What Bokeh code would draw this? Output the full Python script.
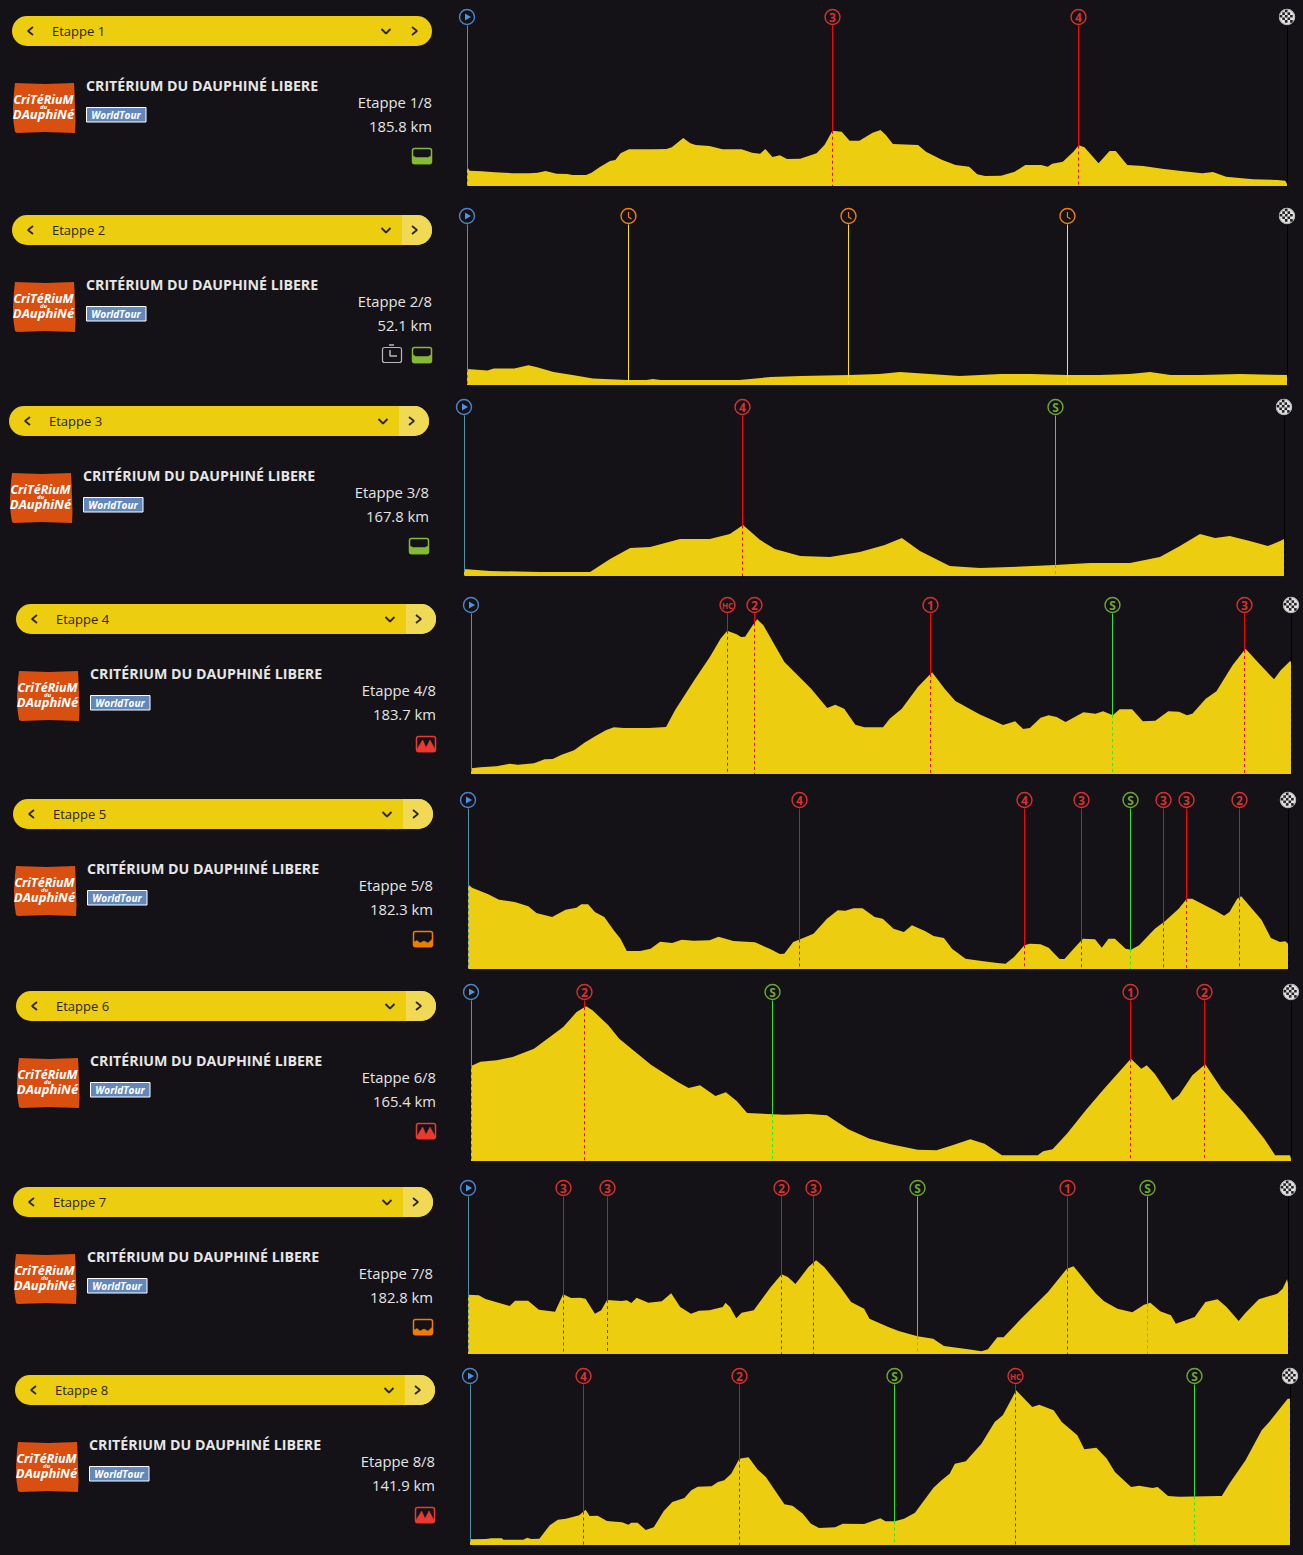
from bokeh.plotting import figure
from bokeh.models import Range1d
from bokeh.embed import file_html
from bokeh.resources import INLINE
from bokeh.core.properties import value
import numpy as np

# ---------- data: elevation profiles, km and metres ----------
s1_km = [0,0.6,3.3,6.3,10.6,14.2,16.0,17.8,20.3,22.7,23.9,27.0,28.2,30.2,32.4,33.6,34.8,36.7,42.1,45.2,46.4,49.0,50.6,51.8,54.9,57.9,62.2,64.6,66.4,67.6,69.2,70.9,72.5,75.5,79.2,81.0,82.8,84.9,86.7,88.9,91.9,93.7,94.9,96.5,102.2,104.0,107.7,110.7,113.8,115.6,117.4,121.0,124.1,126.5,130.1,131.6,132.6,135.0,137.4,138.6,139.9,143.1,145.6,147.0,149.6,153.2,157.5,162.3,166.6,169.0,172.0,178.1,183.6,185.4,185.8]
s1_m = [193,153,147,137,127,127,133,150,123,120,110,110,133,193,250,260,327,367,367,370,387,480,427,410,400,367,367,333,323,370,290,307,270,273,327,410,553,543,453,453,533,560,510,420,410,343,260,210,193,117,100,103,143,210,210,193,223,243,343,407,387,227,350,350,210,200,173,147,127,140,93,67,60,53,20]

s2_km = [0,1.3,1.7,3.0,3.9,4.4,5.5,6.7,8.0,10.2,11.4,11.8,12.3,17.3,19.3,21.2,24.3,26.2,27.5,29.4,31.3,33.9,35.8,38.1,40.2,42.1,43.4,44.7,46.6,49.1,52.1]
s2_m = [160,145,165,165,197,180,130,100,65,50,50,60,50,50,80,90,100,110,130,110,90,110,110,100,100,110,130,100,100,110,100]

s3_km = [0,5.3,15.6,25.8,29.9,34.0,38.1,44.2,50.3,54.4,57.1,60.6,63.6,68.8,74.9,81.0,86.1,89.6,93.3,99.4,105.6,111.7,120.9,128.1,136.3,142.4,146.5,150.6,153.7,156.7,160.8,164.5,167.0,167.8]
s3_m = [70,50,40,40,170,280,290,370,370,420,510,360,270,200,190,240,310,380,250,100,80,90,110,130,130,190,300,420,380,400,350,300,350,370]

s4_km = [0,2.1,5.7,8.7,10.5,14.1,16.5,18.3,20.3,23.1,25.4,27.8,30.2,32.0,34.2,39.8,43.7,45.7,49.9,53.5,55.9,57.4,59.5,60.5,61.4,63.1,64.1,65.5,70.2,76.2,79.8,81.6,83.6,86.1,88.1,92.3,93.8,96.5,100.1,103.3,106.1,108.5,113.9,116.9,119.2,121.9,123.7,125.2,127.6,129.4,131.2,133.2,137.2,139.9,141.6,143.8,145.3,148.1,150.5,153.3,156.2,158.6,160.4,161.6,164.6,167.0,170.6,173.5,176.6,179.9,181.4,183.5,183.7]
s4_m = [57,67,77,103,93,107,147,150,193,237,313,377,437,467,460,460,470,637,930,1170,1353,1433,1397,1370,1373,1487,1547,1487,1120,853,660,693,653,493,467,467,553,653,870,1017,853,730,597,537,490,527,450,460,563,587,570,520,617,603,627,587,647,647,527,533,627,623,587,603,753,827,1087,1253,1103,947,1037,1130,1120]

s5_km = [0,0.9,4.5,6.9,10.4,13.4,15.2,18.7,21.7,24.1,25.2,26.7,28.2,30.3,32.4,33.9,35.3,38.3,40.6,42.7,45.4,47.5,50.1,53.7,55.7,59.0,63.8,67.3,69.3,70.3,72.3,74.4,76.8,79.8,82.2,83.9,85.7,87.7,90.4,92.2,94.6,96.9,98.7,101.7,103.5,105.8,107.6,110.6,114.2,117.7,119.5,121.4,123.7,124.9,127.3,129.1,131.5,132.6,135.0,136.7,139.4,140.9,142.4,143.8,146.2,147.4,149.2,152.7,155.0,158.0,159.8,161.0,166.3,168.1,169.3,171.0,171.9,176.4,178.5,180.5,181.7,182.3]
s5_m = [847,813,747,693,670,627,560,520,593,613,647,647,570,520,387,303,180,180,203,273,260,293,283,287,323,280,267,197,150,153,270,307,353,503,587,583,607,607,520,503,403,370,437,377,330,310,203,103,80,60,53,120,237,253,247,213,100,100,220,303,297,213,303,303,203,193,237,403,480,603,703,703,580,533,570,703,727,493,310,270,277,253]

s6_km = [0,1.9,5.2,8.4,12.7,15.9,18.6,21.3,23.2,24.5,27.7,29.9,36.3,41.7,43.9,46.2,49.3,51.4,53.6,55.7,63.2,68.1,71.8,76.1,80.4,84.7,90.1,93.9,97.1,100.7,103.6,107.1,114.3,115.4,117.3,120.2,124.0,127.7,133.1,135.2,136.3,137.9,141.5,142.8,145.5,148.1,151.4,155.7,160.0,162.2,165.2,165.4]
s6_m = [950,993,1007,1040,1123,1240,1340,1490,1547,1507,1357,1223,963,790,730,757,650,687,600,480,463,470,457,317,223,167,113,107,157,217,173,57,57,97,117,273,507,723,1023,923,957,873,607,657,857,967,723,490,223,57,57,23]

s7_km = [0,2.4,3.9,9.3,10.5,13.4,15.8,19.4,21.2,23.0,25.0,26.2,28.3,29.7,31.0,34.2,35.4,36.4,37.6,40.2,43.2,45.3,47.3,49.7,51.5,53.8,56.8,57.4,58.4,59.8,61.0,63.7,67.5,69.9,71.3,73.0,75.9,77.6,79.4,83.0,85.4,88.3,89.5,93.7,96.0,100.2,103.7,106.1,111.5,114.5,115.9,118.0,119.4,123.3,129.3,133.5,135.0,140.0,141.8,144.8,148.1,150.7,152.1,154.3,156.7,157.8,162.0,164.4,167.1,169.1,171.8,173.3,176.3,180.4,181.6,182.6,182.8]
s7_m = [593,587,550,480,533,533,443,423,597,560,563,553,403,437,540,530,537,510,563,513,527,607,470,403,433,437,470,513,470,357,413,437,670,797,770,700,870,937,870,670,520,453,353,270,230,177,153,80,47,27,47,167,167,353,620,853,877,603,527,453,417,493,513,427,387,303,370,520,547,470,330,410,547,603,653,747,703]

s8_km = [0,0.5,2.8,3.7,5.5,5.8,9.2,9.9,10.6,12.0,13.8,15.2,16.6,18.9,20.0,20.7,22.1,23.7,26.3,27.4,27.9,29.0,30.4,31.8,33.5,35.0,37.1,38.3,39.4,41.8,42.9,44.0,45.2,46.6,48.2,49.8,51.2,54.4,55.8,57.6,59.0,60.4,63.2,64.5,68.2,71.0,71.9,73.5,75.1,77.0,80.2,81.6,83.0,83.9,85.8,88.5,90.8,92.2,93.6,94.5,97.3,98.5,101.0,102.4,105.1,106.3,108.4,110.2,111.6,114.4,115.8,118.1,119.0,120.8,122.7,129.6,130.1,131.4,134.2,137.0,138.3,141.5,141.9]
s8_m = [63,57,60,67,67,53,53,73,60,63,197,253,263,297,353,290,293,240,227,203,223,223,150,177,337,430,470,547,583,587,630,647,713,863,877,753,680,407,393,313,213,170,177,213,210,267,237,237,263,323,573,647,713,813,837,1013,1230,1297,1447,1547,1380,1403,1347,1230,1097,957,973,863,730,580,593,570,580,490,483,490,490,613,847,1147,1230,1463,1463]

# ---------- data: stage table ----------
stage_names = ["Etappe 1","Etappe 2","Etappe 3","Etappe 4","Etappe 5","Etappe 6","Etappe 7","Etappe 8"]
stage_counts = ["Etappe 1/8","Etappe 2/8","Etappe 3/8","Etappe 4/8","Etappe 5/8","Etappe 6/8","Etappe 7/8","Etappe 8/8"]
stage_km = [185.8,52.1,167.8,183.7,182.3,165.4,182.8,141.9]
stage_kinds = ["flat","flat","flat","mountain","hilly","mountain","hilly","mountain"]
race_title = "CRITÉRIUM DU DAUPHINÉ LIBERE"
profiles = [(s1_km,s1_m),(s2_km,s2_m),(s3_km,s3_m),(s4_km,s4_m),(s5_km,s5_m),(s6_km,s6_m),(s7_km,s7_m),(s8_km,s8_m)]

s1_marks = [("3",82.82),("4",138.56)]
s2_marks = [("T",10.26),("T",24.24),("T",38.15)]
s3_marks = [("4",56.99),("S",121.04)]
s4_marks = [("HC",57.46),("2",63.51),("1",102.94),("S",143.71),("3",173.28)]
s5_marks = [("4",73.70),("4",123.72),("3",136.39),("S",147.29),("3",154.62),("3",159.74),("2",171.52)]
s6_marks = [("2",22.89),("S",60.82),("1",133.03),("2",147.95)]
s7_marks = [("3",21.29),("3",31.10),("2",69.89),("3",77.02),("S",100.21),("1",133.65),("S",151.48)]
s8_marks = [("4",19.64),("2",46.64),("S",73.46),("HC",94.40),("S",125.37)]
all_marks = [s1_marks,s2_marks,s3_marks,s4_marks,s5_marks,s6_marks,s7_marks,s8_marks]

# ---------- layout ----------
PAGE_W, PAGE_H = 1303, 1555
OFF = 0.5
BG = "#141216"
YEL = "#edcd10"
YEL2 = "#f0d955"
INK = "#2b2610"
FONT = value("Open Sans")
pill_x = [12,12,9,16,13,16,13,15]
pill_c = [31,230,421,619,814,1006,1202,1390]
baseline = [186,385,576,774,969,1161,1354,1545]
mark_y = [17,216,407,605,800,992,1188,1376]
PX_M = 10.0   # metres per pixel
CHART_W = 820

p = figure(width=PAGE_W, height=PAGE_H, x_range=Range1d(OFF,PAGE_W+OFF), y_range=Range1d(PAGE_H+OFF,OFF),
           output_backend="svg", toolbar_location=None, x_axis_type=None, y_axis_type=None,
           background_fill_color=BG, border_fill_color=BG, outline_line_color=None,
           min_border=0, min_border_left=0, min_border_right=0, min_border_top=0, min_border_bottom=0)
p.xgrid.visible = False
p.ygrid.visible = False

def txt(x, y, s, size, color, align="left", style="normal", font=FONT):
    p.text(x=[x], y=[y], text=[s], text_font=font, text_font_size=f"{size}px", text_color=color,
           text_align=align, text_baseline="middle", text_font_style=style)

def poly(pts, color):
    p.patch([a for a,_ in pts],[b for _,b in pts], fill_color=color, line_color=color, line_width=0.5)

def left_panel(i):
    dx, dy = pill_x[i]-12, pill_c[i]-31
    p.quad(left=[12+dx], right=[432+dx], top=[16+dy], bottom=[46+dy], fill_color=YEL, line_color=None, border_radius=15)
    if i > 0:
        p.quad(left=[402+dx], right=[432+dx], top=[16+dy], bottom=[46+dy], fill_color=YEL2, line_color=None,
               border_radius=(0,15,15,0))
    for xs, ys in (([33,28,33],[27,31,35]), ([381.5,386,390.5],[29,33.5,29]), ([412,417,412],[27,31,35])):
        p.line([a+dx for a in xs],[b+dy for b in ys], line_color=INK, line_width=1.8)
    txt(52+dx, 30.5+dy, stage_names[i], 13, INK)
    # logo
    lx = [15,14,13,13.5,15,17,45,75,75.5,75,74.5,74,45]
    ly = [83,92,108,122,132,133,132,133,122,108,92,83,84]
    p.patch([a+dx for a in lx],[b+dy for b in ly], fill_color="#d94f10", line_color=None)
    txt(43.5+dx, 99.5+dy, "CriTéRiuM", 12.5, "#ffffff", "center", "bold italic")
    txt(43.5+dx, 107+dy, "du", 6, "#ffffff", "center", "bold italic")
    txt(43.5+dx, 113.5+dy, "DAuphiNé", 13, "#ffffff", "center", "bold italic")
    # title
    txt(86+dx, 85+dy, race_title, 14.2, "#e6e6e6", "left", "bold")
    # world tour badge
    p.quad(left=[86.5+dx], right=[146+dx], top=[107.5+dy], bottom=[122+dy], fill_color="#6288bb", line_color="#ffffff", line_width=1)
    txt(116+dx, 115+dy, "WorldTour", 10, "#ffffff", "center", "bold italic")
    # stage text
    txt(432+dx, 101.5+dy, stage_counts[i], 14.8, "#e4e4e4", "right")
    txt(432+dx, 125.5+dy, f"{stage_km[i]} km", 14.8, "#e4e4e4", "right")
    # profile kind icon
    kind = stage_kinds[i]
    col = {"flat":"#84bb33","hilly":"#f07d00","mountain":"#e83a30"}[kind]
    p.quad(left=[412.5+dx], right=[431.5+dx], top=[148.5+dy], bottom=[163.5+dy], fill_color=None, line_color=col, line_width=1.5, border_radius=2)
    if kind == "flat":
        shp = [(413,164),(413,156),(416,157.5),(428,157.5),(431,156),(431,164)]
    elif kind == "hilly":
        shp = [(413,164),(413,159),(416,157.5),(419,160),(423,158),(427,160),(431,156.5),(431,164)]
    else:
        shp = [(413,164),(413,161),(418.7,152),(422,159.5),(426,152),(431,161),(431,164)]
    poly([(a+dx,b+dy) for a,b in shp], col)
    if i == 1:
        g = "#b8b8b8"
        p.quad(left=[382.5+dx], right=[401.5+dx], top=[148.5+dy], bottom=[163.5+dy], fill_color=None, line_color=g, line_width=1.2, border_radius=2)
        p.multi_line([[389+dx,394+dx],[390+dx,390+dx,397+dx]],[[146+dy,146+dy],[151+dy,157+dy,157+dy]], line_color=g, line_width=1.5)

MARK_STYLE = {"start":("#4d84c4","#4f93a8"), "T":("#e8810e","#ffe600"), "S":("#6fa82e","#22ee22"), "finish":("#cccccc","#000000")}
RED = ("#d93030","#ff0000")

for i,(km,m) in enumerate(profiles):
    L = stage_km[i]
    x0 = pill_x[i]+455
    k = L/CHART_W
    xname, yname = f"x{i}", f"y{i}"
    p.extra_x_ranges[xname] = Range1d((OFF-x0)*k, (PAGE_W+OFF-x0)*k)
    b = baseline[i]
    p.extra_y_ranges[yname] = Range1d((b-(PAGE_H+OFF))*PX_M, (b-OFF)*PX_M)
    kw = dict(x_range_name=xname, y_range_name=yname)
    p.varea(x=km, y1=[0]*len(km), y2=m, fill_color=YEL, **kw)
    level = (b-mark_y[i])*PX_M
    marks = [("start",0.0)] + all_marks[i] + [("finish",L)]
    for lab,pos in marks:
        cc, lc = MARK_STYLE.get(lab, RED)
        top = float(np.interp(pos, km, m))
        # the 1px rule sits on a whole pixel column so that it stays crisp
        snap = (np.floor(x0 + pos/k) + 0.5 - x0)*k
        p.segment([snap],[level-85],[snap],[top], line_color=lc, line_width=1, **kw)
        p.segment([snap],[top],[snap],[0], line_color=lc, line_width=1, line_dash="3 3", **kw)
        p.scatter([pos],[level], size=15, fill_color=BG, line_color=cc, line_width=1.4, **kw)
        px = x0 + pos/k
        py = mark_y[i]
        if lab == "start":
            p.scatter([px],[py], marker="triangle", size=7, angle=-np.pi/2, fill_color="#4d94e0", line_color=None)
        elif lab == "T":
            p.line([px,px,px+3],[py-4,py+1,py+3], line_color=cc, line_width=1.2)
        elif lab == "finish":
            p.scatter([px],[py], size=15, fill_color="#e4e4e4", line_color="#aaaaaa", line_width=0.8)
            g = np.arange(-6,6.1,2.6)
            gx, gy = np.meshgrid(g, g)
            keep = ((np.rint((gx+6)/2.6)+np.rint((gy+6)/2.6)) % 2 == 0) & (gx**2+gy**2 < 40)
            p.scatter(px+gx[keep], py+gy[keep], marker="square", size=2.6, fill_color="#222222", line_color=None)
        else:
            size = 8 if lab == "HC" else 12
            p.text([pos],[level], text=[lab], text_font=FONT, text_font_size=f"{size}px", text_color=cc,
                   text_align="center", text_baseline="middle", text_font_style="bold", **kw)
    left_panel(i)

html = file_html(p, INLINE).replace("<head>", f"<head><style>html,body{{background:{BG};}}</style>", 1)
open("out.html", "w").write(html)
